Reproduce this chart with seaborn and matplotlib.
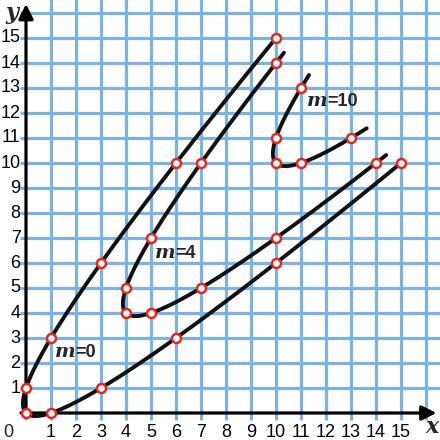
import numpy as np
import pandas as pd
import seaborn as sns
import matplotlib.pyplot as plt

# marked points on each curve
m0_x = [0, 0, 1, 1, 3, 3, 6, 6, 10, 10, 15]
m0_y = [0, 1, 0, 3, 1, 6, 3, 10, 6, 15, 10]
m4_x = [4, 4, 5, 5, 7, 7, 10, 10, 14]
m4_y = [4, 5, 4, 7, 5, 10, 7, 14, 10]
m10_x = [10, 10, 11, 11, 13]
m10_y = [10, 11, 10, 13, 11]

# where each curve ends, as x-y at the two ends
m0_ends = [-5.0, 5.0]
m4_ends = [-4.09, 4.09]
m10_ends = [-2.2, 2.24]

labels = ["m=0", "m=4", "m=10"]
label_pos = [(1.16, 2.44), (5.16, 6.4), (11.24, 12.48)]

ticks = list(range(1, 16))

sns.set_style("white")
plt.rcParams['font.family'] = ['Liberation Sans', 'DejaVu Sans']

fig = plt.figure(figsize=(4.4, 4.4), dpi=100)
ax = fig.add_axes([0, 0, 1, 1])
ax.set_xlim(-1.04, 16.56)
ax.set_ylim(-1.08, 16.52)
ax.axis('off')

grid_c = '#7db3e3'
ax.vlines(ticks + [16], -0.28, 16.6, color=grid_c, lw=2.3, zorder=1)
ax.hlines(ticks + [16], -0.25, 16.6, color=grid_c, lw=2.3, zorder=1)

# axes with arrows
arr = dict(arrowstyle='-|>', lw=2.3, color='black', mutation_scale=22, shrinkA=0, shrinkB=0)
ax.annotate('', xy=(0, 16.36), xytext=(0, -0.2), arrowprops=arr, zorder=3)
ax.annotate('', xy=(16.42, 0), xytext=(-0.2, 0), arrowprops=arr, zorder=3)


def curve(xs, ys, ends):
    u = np.array(xs) - np.array(ys)
    s = np.array(xs) + np.array(ys)
    coef = np.polyfit(u, s, 2)
    uu = np.linspace(ends[0], ends[1], 200)
    ss = np.polyval(coef, uu)
    return pd.DataFrame({'x': (ss + uu) / 2, 'y': (ss - uu) / 2})


for xs, ys, ends in [(m0_x, m0_y, m0_ends), (m4_x, m4_y, m4_ends), (m10_x, m10_y, m10_ends)]:
    df = curve(xs, ys, ends)
    sns.lineplot(data=df, x='x', y='y', sort=False, color='#111111', lw=2.8, ax=ax, zorder=4)
    pts = pd.DataFrame({'x': xs, 'y': ys})
    sns.scatterplot(data=pts, x='x', y='y', s=42, color='white', edgecolor='#e8261a',
                    linewidth=1.8, ax=ax, zorder=5)

# tick labels
for t in ticks:
    ax.text(t, -0.78, str(t), ha='center', va='center', fontsize=13, color='black')
    ax.text(-0.22, t, str(t), ha='right', va='center', fontsize=13, color='black')
ax.text(-0.72, -0.78, '0', ha='center', va='center', fontsize=13)
ax.text(-0.56, 15.98, 'y', ha='center', va='center', fontsize=16, style='italic',
        weight='bold', family='DejaVu Serif')
ax.text(16.24, -0.55, 'x', ha='center', va='center', fontsize=16, style='italic',
        weight='bold', family='DejaVu Serif')

for lab, (lx, ly) in zip(labels, label_pos):
    t = ax.text(lx, ly, 'm', ha='left', va='center', fontsize=14, style='italic',
                weight='bold', family='DejaVu Serif', zorder=6)
    ax.annotate(lab[1:], xy=(1, 0.5), xycoords=t, ha='left', va='center', fontsize=13,
                weight='bold', zorder=6)

fig.savefig('out.png', dpi=100)
